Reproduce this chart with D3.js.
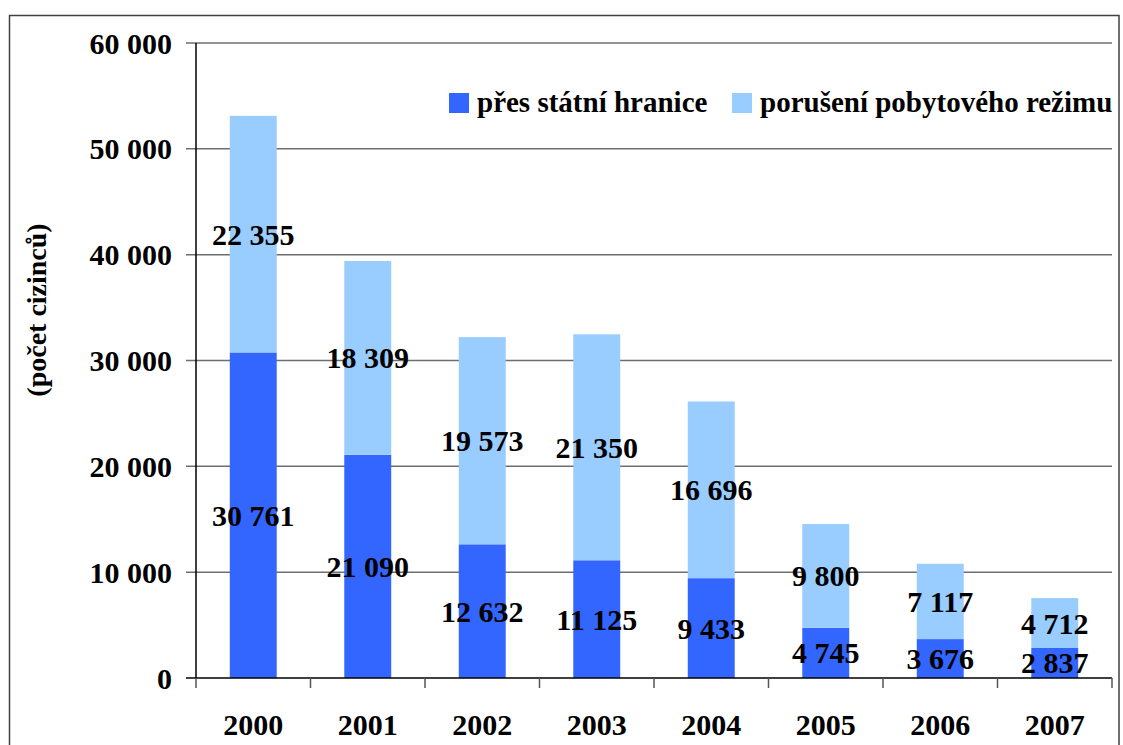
<!DOCTYPE html>
<meta charset='utf-8'>
<html>
  <style>
    body { margin: 0; background: #fff; }
    text { font-family: "Liberation Serif", "Times New Roman", serif; font-weight: bold; fill: #000; }
    .grid line { stroke: #6e6e6e; stroke-width: 1.5px; }
  </style>
  <head>
    <script src="https://cdn.jsdelivr.net/npm/d3@7/dist/d3.min.js"></script>
  </head>
  <body>
    <div id="chart"></div>
    <script>
      var years = ["2000","2001","2002","2003","2004","2005","2006","2007"];
      var hranice = [30761, 21090, 12632, 11125, 9433, 4745, 3676, 2837];
      var rezim = [22355, 18309, 19573, 21350, 16696, 9800, 7117, 4712];
      var yTicks = [0, 10000, 20000, 30000, 40000, 50000, 60000];
      var seriesNames = ["přes státní hranice", "porušení pobytového režimu"];
      var colors = ["#3366ff", "#99ccff"];

      var W = 1123, H = 745;
      var plot = {left: 196, right: 1112, top: 43, bottom: 678};

      var fmt = function(v) { return d3.format(",")(v).replace(/,/g, " "); };

      var svg = d3.select("#chart").append("svg")
        .attr("width", W).attr("height", H);

      // outer frame
      svg.append("rect")
        .attr("x", 9.5).attr("y", 15.5)
        .attr("width", 1109.5).attr("height", 760)
        .attr("fill", "none").attr("stroke", "#404040").attr("stroke-width", 1.5);

      var x = d3.scaleBand().domain(years)
        .range([plot.left, plot.right])
        .paddingInner(0.59).paddingOuter(0.295);
      var y = d3.scaleLinear().domain([0, 60000]).range([plot.bottom, plot.top]);

      // gridlines
      svg.append("g").attr("class", "grid")
        .selectAll("line").data(yTicks.filter(function(d){ return d > 0; }))
        .enter().append("line")
          .attr("x1", plot.left - 10).attr("x2", plot.right)
          .attr("y1", function(d){ return y(d); })
          .attr("y2", function(d){ return y(d); });

      // y tick labels
      svg.append("g").selectAll("text").data(yTicks)
        .enter().append("text")
          .attr("x", 172)
          .attr("y", function(d){ return y(d); })
          .attr("dy", "0.35em")
          .attr("text-anchor", "end")
          .style("font-size", "30px")
          .text(function(d){ return fmt(d); });

      // stacked data
      var rows = years.map(function(yr, i){ return {year: yr, hranice: hranice[i], rezim: rezim[i]}; });
      var stack = d3.stack().keys(["hranice", "rezim"])(rows);

      var layers = svg.selectAll(".layer").data(stack)
        .enter().append("g")
          .attr("class", "layer")
          .attr("fill", function(d, i){ return colors[i]; });

      layers.selectAll("rect").data(function(d){ return d; })
        .enter().append("rect")
          .attr("x", function(d){ return x(d.data.year); })
          .attr("width", x.bandwidth())
          .attr("y", function(d){ return y(d[1]); })
          .attr("height", function(d){ return y(d[0]) - y(d[1]); });

      // axes lines
      svg.append("line")
        .attr("x1", plot.left).attr("x2", plot.left)
        .attr("y1", plot.top).attr("y2", plot.bottom)
        .attr("stroke", "#000").attr("stroke-width", 1.5);
      svg.append("line")
        .attr("x1", plot.left - 10).attr("x2", plot.right)
        .attr("y1", plot.bottom).attr("y2", plot.bottom)
        .attr("stroke", "#000").attr("stroke-width", 1.5);

      var half = (x.step() - x.bandwidth()) / 2;
      var edges = years.map(function(d){ return x(d) - half; }).concat([plot.right]);
      svg.append("g").selectAll("line").data(edges)
        .enter().append("line")
          .attr("x1", function(d){ return d; }).attr("x2", function(d){ return d; })
          .attr("y1", plot.bottom).attr("y2", plot.bottom + 10)
          .attr("stroke", "#555").attr("stroke-width", 1.5);

      // x labels
      svg.append("g").selectAll("text").data(years)
        .enter().append("text")
          .attr("x", function(d){ return x(d) + x.bandwidth() / 2; })
          .attr("y", 735)
          .attr("text-anchor", "middle")
          .style("font-size", "30px")
          .text(function(d){ return d; });

      // value labels
      layers.selectAll("text").data(function(d){ return d; })
        .enter().append("text")
          .attr("x", function(d){ return x(d.data.year) + x.bandwidth() / 2; })
          .attr("y", function(d){ return (y(d[0]) + y(d[1])) / 2; })
          .attr("dy", "0.35em")
          .attr("text-anchor", "middle")
          .style("font-size", "30px")
          .style("fill", "#000")
          .text(function(d){ return fmt(d[1] - d[0]); });

      // y title
      svg.append("text")
        .attr("transform", "translate(46,310) rotate(-90)")
        .attr("text-anchor", "middle")
        .style("font-size", "28px")
        .text("(počet cizinců)");

      // legend
      var legX = [449, 732], legText = [477, 760];
      var leg = svg.append("g").selectAll("g").data(seriesNames)
        .enter().append("g");
      leg.append("rect")
        .attr("x", function(d, i){ return legX[i]; })
        .attr("y", 93).attr("width", 20).attr("height", 20)
        .attr("fill", function(d, i){ return colors[i]; });
      leg.append("text")
        .attr("x", function(d, i){ return legText[i]; })
        .attr("y", 112)
        .style("font-size", "29px")
        .text(function(d){ return d; });
    </script>
  </body>
</html>
